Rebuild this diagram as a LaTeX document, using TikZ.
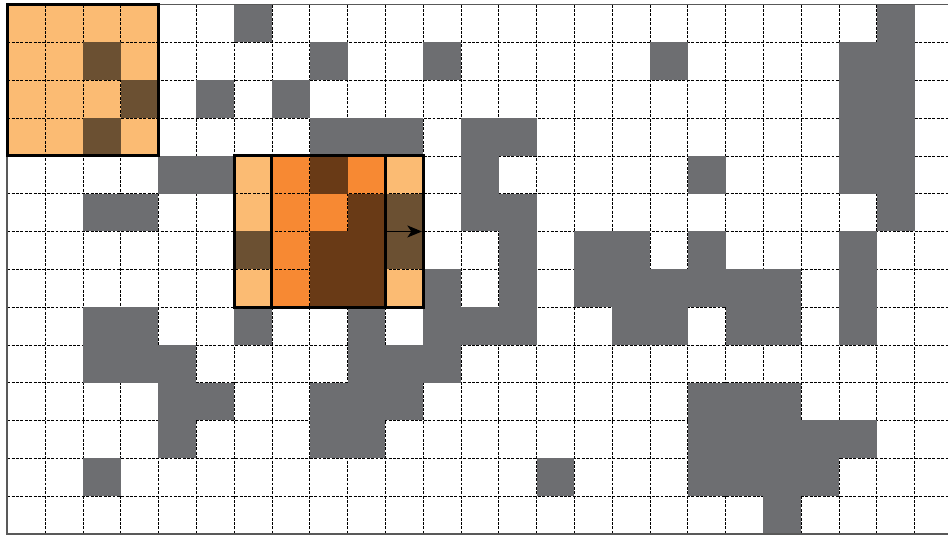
\documentclass[tikz,border=0pt]{standalone}
\usepackage{tikz}
\usetikzlibrary{arrows.meta}
\definecolor{cellgrey}{RGB}{109,110,113}
\definecolor{winorange}{RGB}{251,187,115}

\begin{document}
\begin{tikzpicture}[x=1cm,y=-1cm,>=Stealth,
    gridline/.style={black,line width=0.5pt,dash pattern=on 2.2pt off 1.1pt},
    border/.style={black!65,line width=1.2pt},
    window/.style={black,line width=2.2pt},
    winfill/.style={fill=winorange,blend mode=multiply}]
    \useasboundingbox (-0.193,-0.124) rectangle (24.886,14.056);

    % Grid
    \foreach \c in {1,...,24} \draw[gridline] (\c,0) -- (\c,14);
    \foreach \r in {1,...,13} \draw[gridline] (0,\r) -- (24.886,\r);

    % Obstacles, row by row
    \foreach \r/\cols in {0/{6,23}, 1/{2,8,11,17,22,23}, 2/{3,5,7,22,23},
        3/{2,8,9,10,12,13,22,23}, 4/{4,5,8,12,18,22,23}, 5/{2,3,9,10,12,13,23},
        6/{6,8,9,10,13,15,16,18,22}, 7/{8,9,11,13,15,16,17,18,19,20,22},
        8/{2,3,6,9,11,12,13,16,17,19,20,22}, 9/{2,3,4,9,10,11},
        10/{4,5,8,9,10,18,19,20}, 11/{4,8,9,18,19,20,21,22},
        12/{2,14,18,19,20,21}, 13/{20}}
        \foreach \c in \cols \fill[cellgrey] (\c,\r) rectangle ++(1,1);

    % Outer border
    \draw[border] (24.886,0) -- (0,0) -- (0,14) -- (24.886,14);

    % Sliding windows
    \fill[winfill] (0,0) rectangle (4,4);
    \fill[winfill] (6,4) rectangle (10,8);
    \fill[winfill] (7,4) rectangle (11,8);
    \draw[window] (0,0) rectangle (4,4);
    \draw[window] (6,4) rectangle (10,8);
    \draw[window] (7,4) rectangle (11,8);

    % Step to the right
    \coordinate (winA) at (10,6);
    \coordinate (winB) at (10.97,6);
    \draw[-{Stealth[length=11pt,width=9pt,inset=3pt]},line width=0.8pt] (winA) -- (winB);
\end{tikzpicture}
\end{document}
